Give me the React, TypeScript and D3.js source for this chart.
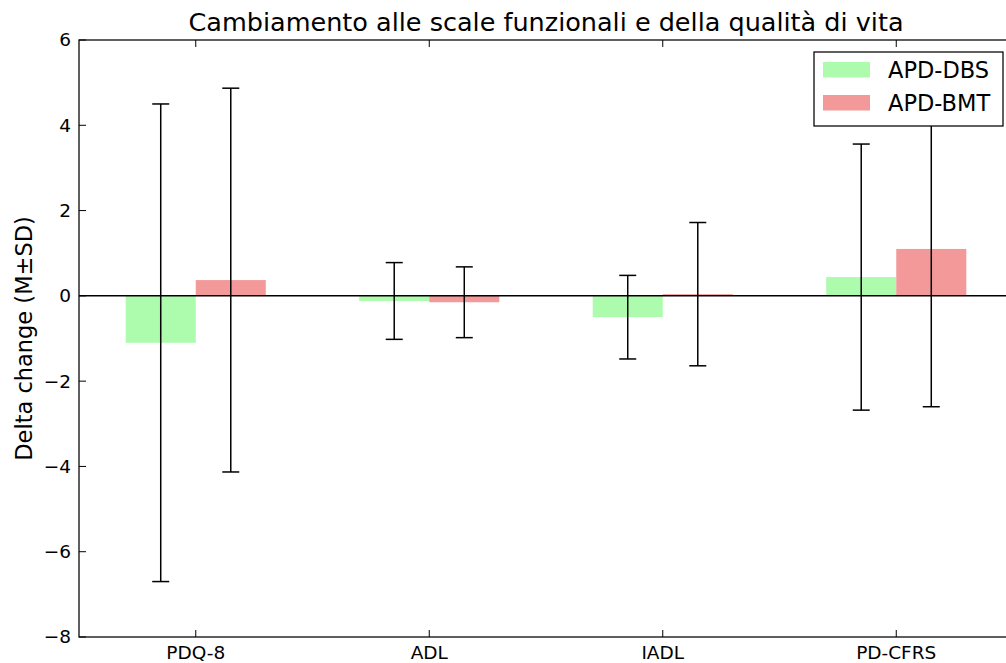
import React from "react";
import * as d3 from "d3";

// Scales, measures and groups
const categories = ["PDQ-8", "ADL", "IADL", "PD-CFRS"];
const seriesNames = ["APD-DBS", "APD-BMT"];
const dbsMean = [-1.1, -0.12, -0.5, 0.44];
const dbsSD = [5.6, 0.9, 0.98, 3.12];
const bmtMean = [0.37, -0.15, 0.04, 1.1];
const bmtSD = [4.5, 0.83, 1.68, 3.7];
const yTicks = [-8, -6, -4, -2, 0, 2, 4, 6];

const W = 1006;
const H = 663;
const FONT = "DejaVu Sans, Verdana, sans-serif";
const colors = ["#adfbad", "#f39999"];
const barWidth = 0.3;

export default function App() {
  const left = 79;
  const top = 40;
  const bottom = 637;
  const x = d3.scaleLinear().domain([-0.2, 3.8]).range([left, 1013]);
  const y = d3.scaleLinear().domain([-8, 6]).range([bottom, top]);
  const right = x(3.8);

  const series = [
    { name: seriesNames[0], mean: dbsMean, sd: dbsSD, offset: 0, color: colors[0] },
    { name: seriesNames[1], mean: bmtMean, sd: bmtSD, offset: barWidth, color: colors[1] },
  ];
  const cap = 8.5;

  return (
    <div style={{ position: "fixed", left: 0, top: 0 }}>
      <svg width={W} height={H} style={{ display: "block", background: "#fff" }} fontFamily={FONT}>
        <rect x={0} y={0} width={W} height={H} fill="#fff" />
        {/* bars */}
        {series.map((s) =>
          s.mean.map((m, i) => {
            const x0 = x(i + s.offset);
            const x1 = x(i + s.offset + barWidth);
            const ya = y(Math.max(0, m));
            const yb = y(Math.min(0, m));
            return (
              <rect key={s.name + i} x={x0} y={ya} width={x1 - x0} height={yb - ya} fill={s.color} />
            );
          })
        )}
        {/* zero line */}
        <line x1={left} x2={right} y1={y(0)} y2={y(0)} stroke="#000" strokeWidth={1.5} />
        {/* error bars */}
        {series.map((s) =>
          s.mean.map((m, i) => {
            const cx = x(i + s.offset + barWidth / 2);
            const yt = y(m + s.sd[i]);
            const yb = y(m - s.sd[i]);
            return (
              <g key={"e" + s.name + i} stroke="#000" strokeWidth={1.5}>
                <line x1={cx} x2={cx} y1={yt} y2={yb} />
                <line x1={cx - cap} x2={cx + cap} y1={yt} y2={yt} />
                <line x1={cx - cap} x2={cx + cap} y1={yb} y2={yb} />
              </g>
            );
          })
        )}
        {/* axes frame */}
        <rect x={left} y={top} width={right - left} height={bottom - top} fill="none" stroke="#000" strokeWidth={1.25} />
        {/* y ticks */}
        {yTicks.map((t) => (
          <g key={"y" + t}>
            <line x1={left} x2={left + 7} y1={y(t)} y2={y(t)} stroke="#000" strokeWidth={1} />
            <line x1={right} x2={right - 7} y1={y(t)} y2={y(t)} stroke="#000" strokeWidth={1} />
            <text x={left - 8} y={y(t)} dy="0.35em" textAnchor="end" fontSize={18.5} fill="#000">
              {t < 0 ? "\u2212" + Math.abs(t) : String(t)}
            </text>
          </g>
        ))}
        {/* x ticks */}
        {categories.map((c, i) => (
          <g key={"x" + c}>
            <line x1={x(i + barWidth)} x2={x(i + barWidth)} y1={bottom} y2={bottom - 7} stroke="#000" strokeWidth={1} />
            <line x1={x(i + barWidth)} x2={x(i + barWidth)} y1={top} y2={top + 7} stroke="#000" strokeWidth={1} />
            <text x={x(i + barWidth)} y={bottom + 22} textAnchor="middle" fontSize={18.5} fill="#000">
              {c}
            </text>
          </g>
        ))}
        {/* title and axis label */}
        <text x={(left + right) / 2} y={31} textAnchor="middle" fontSize={25.5} fill="#000">
          Cambiamento alle scale funzionali e della qualità di vita
        </text>
        <text transform={`translate(32, ${(top + bottom) / 2}) rotate(-90)`} textAnchor="middle" fontSize={22.5} fill="#000">
          Delta change (M±SD)
        </text>
        {/* legend */}
        <g>
          <rect x={814} y={52} width={189} height={74} fill="#fff" stroke="#000" strokeWidth={1.25} />
          {series.map((s, k) => (
            <g key={"l" + s.name}>
              <rect x={823} y={62 + k * 33} width={47} height={15.5} fill={s.color} />
              <text x={888} y={77.5 + k * 33} fontSize={22.5} fill="#000">
                {s.name}
              </text>
            </g>
          ))}
        </g>
      </svg>
    </div>
  );
}
